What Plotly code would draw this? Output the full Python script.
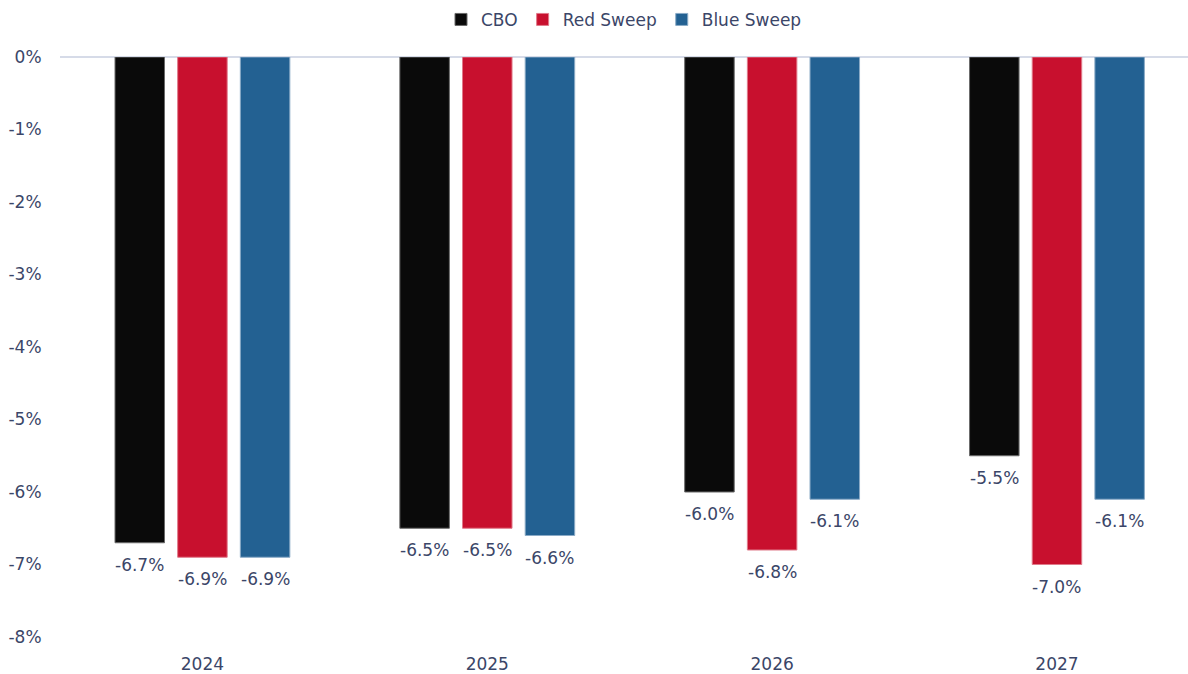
import plotly.graph_objects as go

years = ["2024", "2025", "2026", "2027"]
cbo = [-6.7, -6.5, -6.0, -5.5]
red_sweep = [-6.9, -6.5, -6.8, -7.0]
blue_sweep = [-6.9, -6.6, -6.1, -6.1]
y_ticks = [0, -1, -2, -3, -4, -5, -6, -7, -8]

FONT = "DejaVu Sans"
TXT = "#3b4668"
FS = 17

series = [
    ("CBO", cbo, "#0a0a0a", "#6a6a6a"),
    ("Red Sweep", red_sweep, "#c8102e", "#e07a8a"),
    ("Blue Sweep", blue_sweep, "#236192", "#8aaac6"),
]

# layout constants
X_RANGE = [-0.5, 3.46]
PLOT_L, PLOT_W = 60, 1128
BARGAP = 0.34
cat_px = PLOT_W / (X_RANGE[1] - X_RANGE[0])
slot_px = cat_px * (1 - BARGAP) / len(series)

fig = go.Figure()
annotations = []
for i, (name, vals, col, edge) in enumerate(series):
    fig.add_trace(go.Bar(
        x=years, y=vals, name=name,
        marker=dict(color=col, line=dict(color=edge, width=1)),
    ))
    for j, v in enumerate(vals):
        annotations.append(dict(
            x=j, y=v, xref="x", yref="y", text=f"{v:.1f}%", showarrow=False,
            yanchor="top", xanchor="center", yshift=-10,
            xshift=(i - 1) * slot_px,
            font=dict(family=FONT, size=FS, color=TXT),
        ))

fig.update_layout(
    width=1188, height=674,
    margin=dict(l=PLOT_L, r=0, t=57, b=37),
    paper_bgcolor="white", plot_bgcolor="white",
    barmode="group", bargap=BARGAP, bargroupgap=0.21,
    font=dict(family=FONT, size=FS, color=TXT),
    annotations=annotations,
    legend=dict(orientation="h", x=0.5, xanchor="center", y=1.095, yanchor="top",
                font=dict(family=FONT, size=FS, color=TXT),
                itemwidth=30, traceorder="normal"),
    xaxis=dict(range=X_RANGE, showgrid=False, showline=False, zeroline=False,
               type="category",
               ticks="outside", ticklen=12, tickcolor="rgba(0,0,0,0)",
               tickfont=dict(family=FONT, size=FS, color=TXT)),
    yaxis=dict(range=[-8, 0], showgrid=False, zeroline=True, zerolinecolor="#d6dbe8",
               zerolinewidth=2, showline=False,
               tickvals=y_ticks, ticktext=[f"{t}%" for t in y_ticks],
               ticks="outside", ticklen=14, tickcolor="rgba(0,0,0,0)",
               tickfont=dict(family=FONT, size=FS, color=TXT)),
)

fig.write_html("out.html")
